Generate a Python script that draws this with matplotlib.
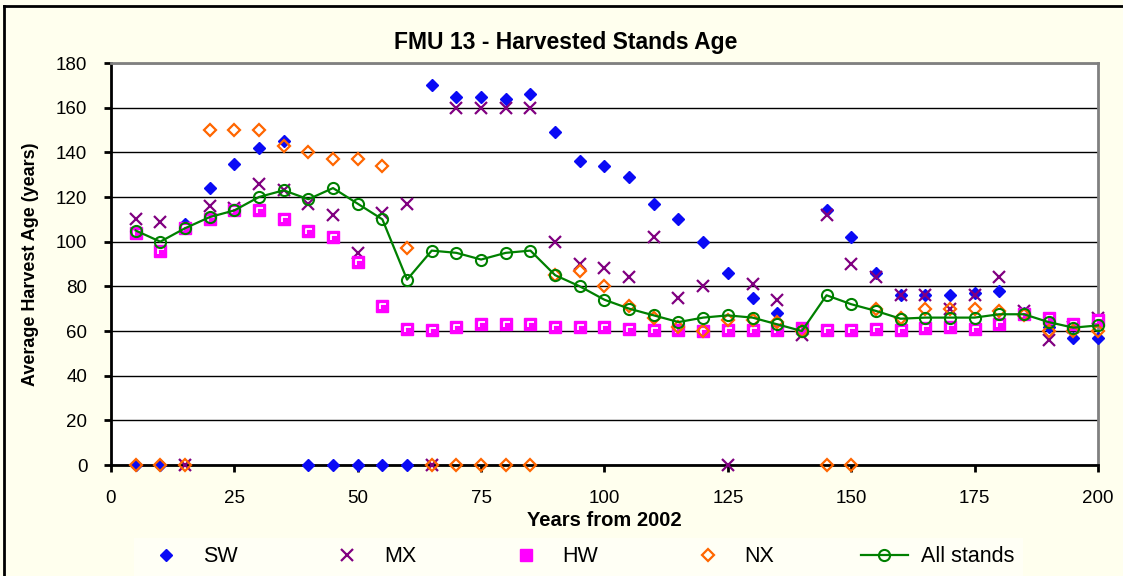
import numpy as np
import matplotlib
matplotlib.use('Agg')
import matplotlib.pyplot as plt
from matplotlib.path import Path
from matplotlib.lines import Line2D

plt.rcParams['font.family'] = ['Liberation Sans', 'DejaVu Sans']

# years from 2002
years = [5, 10, 15, 20, 25, 30, 35, 40, 45, 50, 55, 60, 65, 70, 75, 80, 85, 90, 95, 100,
         105, 110, 115, 120, 125, 130, 135, 140, 145, 150, 155, 160, 165, 170, 175, 180, 185, 190, 195, 200]

sw = [0, 0, 108, 124, 135, 142, 145, 0, 0, 0, 0, 0, 170, 165, 165, 164, 166, 149, 136, 134,
      129, 117, 110, 100, 86, 75, 68, 61, 114, 102, 86, 76, 76, 76, 77, 78, 68, 62, 57, 57]
mx = [110, 109, 0, 116, 115, 126, 123, 117, 112, 95, 113, 117, 0, 160, 160, 160, 160, 100, 90, 88,
      84, 102, 75, 80, 0, 81, 74, 58, 112, 90, 84, 76, 76, 70, 76, 84, 69, 56, 62, 66]
hw = [104, 96, 106, 110, 114, 114, 110, 105, 102, 91, 71, 61, 60.5, 62, 63, 63, 63, 62, 62, 62,
      61, 60.5, 60.5, 60, 60.5, 60.5, 60.5, 61.5, 60.5, 60.5, 61, 60.5, 61.5, 62, 61, 63, 67.5, 66, 63, 65]
nx = [0, 0, 0, 150, 150, 150, 143, 140, 137, 137, 134, 97, 0, 0, 0, 0, 0, 85, 87, 80,
      71, 66, 62, 60, 65, 65, 64, 60, 0, 0, 70, 66, 70, 70, 70, 69, 67, 60, 60, 60]
all_stands = [105, 100, 106, 111, 114, 120, 123, 119, 124, 117, 110, 83, 96, 95, 92, 95, 96, 85, 80, 74,
              70, 67, 64, 66, 67, 66, 63, 60, 76, 72, 69, 65.5, 66, 66, 66, 67.5, 67.5, 64, 61.5, 62.5]

bg = '#FFFFEE'

fig = plt.figure(figsize=(11.23, 5.76), dpi=100, facecolor=bg)
ax = fig.add_axes([0.0988, 0.1927, 0.8789, 0.6979])
ax.set_facecolor('white')

# little white corner mark inside the HW squares (old Excel style)
corner = Path([(-0.2, -0.3), (-0.2, 0.25), (0.45, 0.25)], [Path.MOVETO, Path.LINETO, Path.LINETO])

ax.plot(years, sw, ls='none', marker='D', ms=6.5, color='#0A0AF5', mec='#0A0AF5', label='SW', zorder=3, clip_on=False)
ax.plot(years, mx, ls='none', marker='x', ms=9, mew=1.6, color='#800080', label='MX', zorder=3, clip_on=False)
ax.plot(years, hw, ls='none', marker='s', ms=8, color='#FF00FF', mec='#FF00FF', label='HW', zorder=3, clip_on=False)
ax.plot(years, hw, ls='none', marker=corner, ms=6, mew=1.3, color='white', fillstyle='none', zorder=3, clip_on=False)
ax.plot(years, nx, ls='none', marker='D', ms=6, mew=1.6, color='#FF6600', mfc='none', label='NX', zorder=3, clip_on=False)
ax.plot(years, all_stands, color='#008000', lw=1.6, marker='o', ms=8, mfc='none', mew=1.5,
        label='All stands', zorder=4, clip_on=False)

ax.set_xlim(0, 200)
ax.set_ylim(0, 180)
ax.set_xticks(np.arange(0, 201, 25))
ax.set_yticks(np.arange(0, 181, 20))
ax.yaxis.grid(True, color='black', lw=1)
ax.set_axisbelow(True)

for side in ['left', 'bottom']:
    ax.spines[side].set_color('black')
    ax.spines[side].set_linewidth(2)
for side in ['top', 'right']:
    ax.spines[side].set_color('#808080')
    ax.spines[side].set_linewidth(2)

ax.tick_params(axis='x', direction='out', length=5, width=2, pad=13, labelsize=13.5)
ax.tick_params(axis='y', direction='out', length=5, width=2, pad=12, labelsize=13.5)

fig.text(566 / 1123, 1 - 42 / 576, 'FMU 13 - Harvested Stands Age', fontsize=16.5, fontweight='bold',
         ha='center', va='center')
ax.set_xlabel('Years from 2002', fontsize=14.5, fontweight='bold', labelpad=3)
ax.set_ylabel('Average Harvest Age (years)', fontsize=13, fontweight='bold', labelpad=12)

leg = fig.legend(loc='center', bbox_to_anchor=(0.515, 0.033), ncol=5, fontsize=15.5,
                 frameon=True, fancybox=False, handlelength=2.2, handletextpad=0.6,
                 columnspacing=4.0, borderpad=0.4)
leg.get_frame().set_facecolor('#FFFFF7')
leg.get_frame().set_edgecolor('none')

# outer chart border (only the left and top edges are inside the picture)
x0 = 4 / 1123
y0 = 1 - 6 / 576
fig.add_artist(Line2D([x0, x0], [0, y0], transform=fig.transFigure, color='black', lw=2))
fig.add_artist(Line2D([x0, 1], [y0, y0], transform=fig.transFigure, color='black', lw=2))

fig.savefig('out.png', dpi=100, facecolor=bg)
